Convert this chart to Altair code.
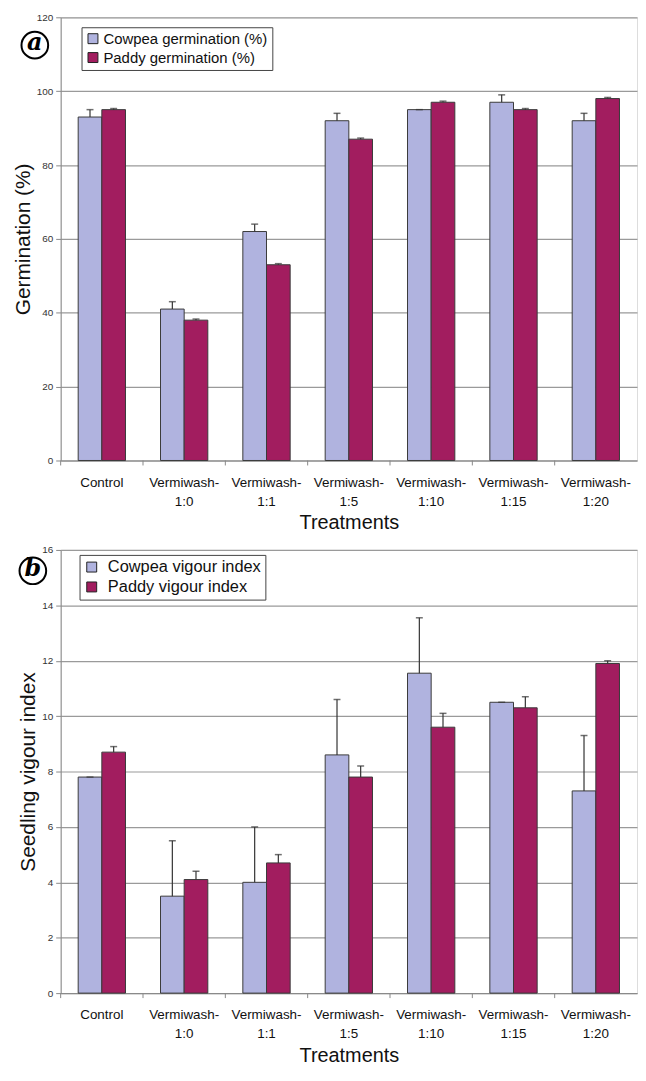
import altair as alt
import pandas as pd

categories = ["Control", "Vermiwash- 1:0", "Vermiwash- 1:1", "Vermiwash- 1:5",
              "Vermiwash- 1:10", "Vermiwash- 1:15", "Vermiwash- 1:20"]

germ_series = ["Cowpea germination (%)", "Paddy germination (%)"]
cowpea_germ = [93, 41, 62, 92, 95, 97, 92]
cowpea_germ_err = [2, 2, 2, 2, 0, 2, 2]
paddy_germ = [95, 38, 53, 87, 97, 95, 98]
paddy_germ_err = [0.3, 0.3, 0.3, 0.3, 0.3, 0.3, 0.3]

vig_series = ["Cowpea vigour index", "Paddy vigour index"]
cowpea_vig = [7.8, 3.5, 4.0, 8.6, 11.55, 10.5, 7.3]
cowpea_vig_err = [0, 2, 2, 2, 2, 0, 2]
paddy_vig = [8.7, 4.1, 4.7, 7.8, 9.6, 10.3, 11.9]
paddy_vig_err = [0.2, 0.3, 0.3, 0.4, 0.5, 0.4, 0.1]

COLORS = ["#b0b3df", "#a21d5f"]
W, H = 580, 446
FONT = "Liberation Sans"


def long_df(series, vals_a, err_a, vals_b, err_b):
    rows = []
    for s, vals, errs in ((series[0], vals_a, err_a), (series[1], vals_b, err_b)):
        for c, v, e in zip(categories, vals, errs):
            rows.append({"cat": c, "series": s, "val": v, "hi": v + e})
    return pd.DataFrame(rows)


def panel(df, series, ymax, ystep, ytitle, letter, leg_x, leg_y, leg_font, leg_off, letter_xy):
    xenc = alt.X("cat:N", sort=categories,
                 scale=alt.Scale(paddingInner=0, paddingOuter=0),
                 axis=alt.Axis(title="Treatments", ticks=False, labelAngle=0,
                               labelExpr="split(datum.label, ' ')",
                               labelFontSize=13.5, labelLineHeight=19, labelPadding=15,
                               labelColor="#111", labelFont=FONT,
                               titleFontSize=20, titleFont=FONT, titleFontWeight="normal",
                               titleColor="#111", titlePadding=5,
                               domainColor="#888"))
    xoff = alt.XOffset("series:N", sort=series,
                       scale=alt.Scale(paddingInner=0, paddingOuter=0.74))
    yenc = alt.Y("val:Q", scale=alt.Scale(domain=[0, ymax], nice=False),
                 axis=alt.Axis(title=ytitle, values=list(range(0, ymax + 1, ystep)),
                               grid=True, gridColor="#9a9a9a", gridWidth=1.2,
                               domainColor="#888", tickColor="#888", tickSize=5,
                               labelFontSize=10, labelColor="#333", labelFont=FONT,
                               labelPadding=3, titleFontSize=21, titleFont=FONT,
                               titleFontWeight="normal", titleColor="#111",
                               titlePadding=3))
    base = alt.Chart(df)
    bars = base.mark_bar(stroke="#3a3a3a", strokeWidth=1).encode(
        x=xenc, xOffset=xoff, y=yenc,
        color=alt.Color("series:N", scale=alt.Scale(domain=series, range=COLORS),
                        legend=alt.Legend(title=None, orient="none", legendX=leg_x,
                                          legendY=leg_y, fillColor="white",
                                          strokeColor="#444", padding=4,
                                          symbolType="square", symbolSize=100,
                                          symbolStrokeColor="#222", symbolStrokeWidth=1,
                                          symbolOpacity=1, labelLimit=0,
                                          labelFontSize=leg_font, labelFont=FONT,
                                          labelColor="#111", rowPadding=3,
                                          labelOffset=leg_off)))
    err = base.mark_rule(color="#333", strokeWidth=1.2).encode(
        x=xenc, xOffset=xoff, y=yenc, y2="hi:Q")
    cap = base.mark_tick(color="#333", size=7, thickness=1.5).encode(
        x=xenc, xOffset=xoff, y=alt.Y("hi:Q", scale=alt.Scale(domain=[0, ymax], nice=False)))
    ticks = alt.Chart(pd.DataFrame({"cat": categories})).mark_rule(
        color="#888", strokeWidth=1).encode(
        x=alt.X("cat:N", sort=categories, bandPosition=0,
                scale=alt.Scale(paddingInner=0, paddingOuter=0)),
        y=alt.value(H), y2=alt.value(H + 5))
    lab = alt.Chart(pd.DataFrame({"t": [letter]}))
    circ = lab.mark_point(shape="circle", size=720, filled=False, stroke="black",
                          strokeWidth=2, opacity=1).encode(
        x=alt.value(letter_xy[0]), y=alt.value(letter_xy[1]))
    txt = lab.mark_text(font="DejaVu Serif", fontStyle="italic", fontWeight="bold",
                        fontSize=24, color="black", baseline="middle", dy=-2).encode(
        text="t:N", x=alt.value(letter_xy[0]), y=alt.value(letter_xy[1]))
    return alt.layer(bars, err, cap, ticks, circ, txt).properties(width=W, height=H)


top = panel(long_df(germ_series, cowpea_germ, cowpea_germ_err, paddy_germ, paddy_germ_err),
            germ_series, 120, 20, "Germination (%)", "a", 21, 10, 15, 3, (-26, 28))
bottom = panel(long_df(vig_series, cowpea_vig, cowpea_vig_err, paddy_vig, paddy_vig_err),
               vig_series, 16, 2, "Seedling vigour index", "b", 19, 5, 16.5, 8, (-28, 21))

chart = alt.vconcat(top, bottom, spacing=11).resolve_scale(
    color="independent", x="independent", y="independent", xOffset="independent"
).resolve_legend(color="independent").properties(
    padding={"top": 0, "left": 3, "right": 0, "bottom": 0}
).configure_view(
    fill="#d8d6d8", stroke="#888", strokeWidth=1
).configure(background="white")

chart.save("out.html", embed_options={"renderer": "svg", "actions": False})
